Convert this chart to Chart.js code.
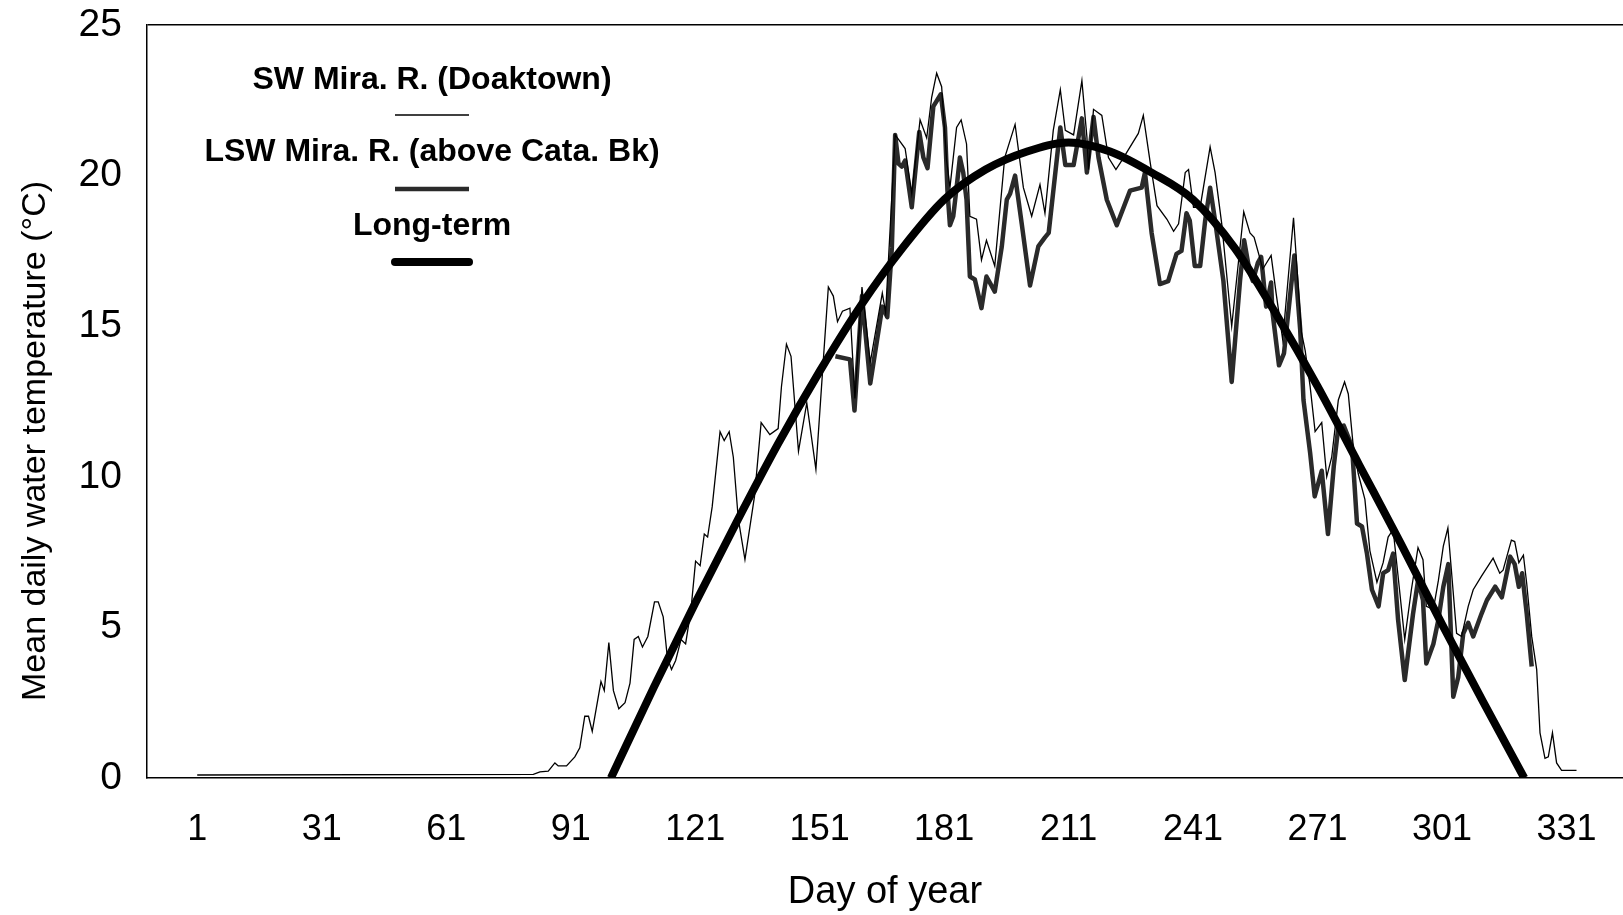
<!DOCTYPE html>
<html>
<head>
<meta charset="utf-8">
<title>Mean daily water temperature</title>
<script src="https://cdn.jsdelivr.net/npm/chart.js@4.4.1/dist/chart.umd.min.js"></script>
<style>
  html, body { margin: 0; padding: 0; background: #fff; }
  #wrap { width: 1623px; height: 915px; }
</style>
</head>
<body>
<div id="wrap"><canvas id="tempChart" width="1623" height="915"></canvas></div>
<script>
// --- data ---
const xTickDays = [1, 31, 61, 91, 121, 151, 181, 211, 241, 271, 301, 331];
const yTicks = [0, 5, 10, 15, 20, 25];

// SW Mira. R. (Doaktown) - thin line
const swDays = [1, 82, 83.6, 85.6, 87.2, 88, 90, 92, 93.2, 94.4, 95.3, 96.2, 98.3, 99.1, 100.2, 101.3, 102.6, 104.1, 105.3, 106.3,
  107.3, 108.3, 109.6, 111.2, 112.1, 113.3, 114.3, 115.3, 116.3, 117.6, 118.7, 120, 121.1, 122.2, 123.2, 124, 125.1, 127, 128, 129.2,
  130.2, 131.4, 133, 135.3, 136.9, 139, 141, 141.8, 143, 144.1, 145.9, 147.9, 150.1, 151.9, 153.1, 154.3, 155.3, 156.5, 158.3, 159.5,
  161.2, 163.2, 166.1, 166.9, 169.2, 170, 171.6, 173.2, 175.2, 176.8, 178, 179.2, 180.4, 181.6, 182.4, 184, 185.1, 186.4, 187.2, 188.8,
  190, 191.2, 193.2, 195.6, 198.1, 200.1, 202.1, 204.1, 205.3, 207.3, 209, 210.2, 212.2, 214.2, 215.4, 215.8, 217, 219, 220.6, 222.4,
  223.8, 227.8, 229, 230.7, 232.3, 234.7, 236.3, 237.5, 239.1, 239.9, 241.1, 242.7, 245.1, 246.3, 247.9, 250.3, 253.2, 254.7, 255.7, 257.8,
  259.8, 261, 262.6, 265.2, 267.1, 268, 269.2, 270.4, 272, 273.2, 274.4, 276, 277.5, 278.4, 279.6, 280.8, 282.4, 283.6, 285.3, 286.8,
  288, 289.2, 290.4, 292, 293.6, 295.2, 296.4, 297.2, 298.9, 300.1, 301.3, 302.4, 304.5, 305.7, 307.3, 308.5, 310.5, 313.3, 314.9, 315.7,
  317.7, 318.5, 319.5, 320.6, 321.4, 322.6, 323.8, 324.6, 325.8, 326.6, 327.6, 328.6, 329.8, 333.4];
const swTemps = [0.1, 0.12, 0.2, 0.23, 0.5, 0.4, 0.4, 0.7, 1.0, 2.05, 2.05, 1.55, 3.2, 2.9, 4.5, 2.9, 2.3, 2.5, 3.15, 4.6,
  4.7, 4.35, 4.7, 5.85, 5.85, 5.35, 4.0, 3.6, 3.9, 4.6, 4.45, 5.6, 7.2, 7.05, 8.1, 8.0, 9.0, 11.5, 11.2, 11.5,
  10.65, 8.6, 7.25, 9.35, 11.8, 11.4, 11.6, 13.0, 14.4, 14.0, 10.85, 12.45, 10.25, 13.9, 16.3, 16.0, 15.15, 15.5, 15.6, 12.6,
  16.3, 13.8, 16.1, 15.45, 21.35, 21.2, 20.9, 19.4, 21.85, 21.25, 22.6, 23.4, 22.95, 20.5, 19.6, 21.6, 21.85, 21.05, 18.65, 18.55,
  17.2, 17.85, 17.0, 20.6, 21.7, 19.6, 18.65, 19.7, 18.75, 21.5, 22.85, 21.5, 21.35, 23.15, 21.3, 20.2, 22.2, 22.0, 20.6, 20.2,
  20.5, 21.4, 22.0, 20.4, 19.0, 18.55, 18.15, 18.4, 20.1, 20.2, 18.95, 18.95, 20.95, 20.1, 18.4, 15.0, 18.8, 18.1, 17.95, 16.9,
  17.35, 16.1, 14.55, 18.6, 14.8, 14.2, 13.0, 11.5, 11.8, 10.0, 10.65, 12.55, 13.15, 12.75, 11.0, 10.1, 9.25, 7.55, 6.5, 7.15,
  8.0, 8.25, 6.7, 4.6, 6.25, 7.65, 7.25, 5.7, 5.6, 6.55, 7.7, 8.3, 4.8, 4.7, 5.7, 6.25, 6.7, 7.3, 6.8, 6.9,
  7.9, 7.85, 7.15, 7.4, 6.45, 4.7, 3.6, 1.5, 0.65, 0.7, 1.5, 0.5, 0.25, 0.25];

// LSW Mira. R. (above Cata. Bk) - medium line
const lswDays = [154.8, 158.3, 159.4, 161.2, 163.2, 166.1, 167.3, 168.4, 169.2, 170, 170.8, 171.6, 173.2, 175, 176, 177, 178.4, 180.2, 181.2, 181.8,
  182.4, 183.2, 184, 184.8, 185.6, 186.4, 187.2, 188.4, 190, 191.2, 193.2, 194.9, 196.1, 196.9, 198.1, 199.7, 201.7, 203.7, 205.3, 206.2,
  209, 210.2, 212.2, 214.2, 215.4, 217, 218.2, 220.2, 222.6, 225.8, 228.6, 229.4, 231, 233, 235, 237, 238.2, 239.4, 240.2, 241.4,
  242.7, 243.9, 245.1, 246.3, 248.3, 250.3, 252.3, 253.3, 254.7, 255.4, 256.6, 257.4, 258.6, 259.8, 260.1, 261.7, 262.9, 265.4, 266.8, 267.6,
  269.2, 270.3, 272, 273.5, 274.9, 276, 277.3, 279.3, 280.5, 281.7, 282.9, 284.1, 285.7, 286.8, 288, 289.2, 290.4, 292, 294, 295.2,
  296.4, 297.2, 298.9, 300.1, 301.3, 302.5, 303.7, 304.9, 306.1, 307.3, 308.5, 310.5, 311.8, 313.8, 315.4, 317.4, 318.5, 319.5, 320.3, 321.4,
  322.6];
const lswTemps = [14.0, 13.9, 12.2, 16.0, 13.1, 15.65, 15.3, 17.6, 21.35, 20.4, 20.3, 20.5, 18.95, 21.45, 20.6, 20.25, 22.3, 22.7, 21.6, 19.5,
  18.35, 18.65, 19.6, 20.6, 20.1, 19.2, 16.65, 16.55, 15.6, 16.65, 16.15, 17.65, 19.2, 19.4, 20.0, 18.4, 16.35, 17.65, 17.95, 18.1,
  21.6, 20.35, 20.35, 21.9, 20.1, 21.95, 20.6, 19.2, 18.35, 19.5, 19.6, 20.1, 18.1, 16.4, 16.5, 17.4, 17.5, 18.75, 18.5, 17.0,
  17.0, 18.5, 19.6, 18.5, 16.5, 13.15, 16.5, 17.85, 16.75, 16.5, 17.1, 17.3, 15.65, 16.45, 15.5, 13.7, 14.1, 17.35, 14.9, 12.55,
  10.8, 9.35, 10.2, 8.1, 10.35, 11.65, 11.7, 11.0, 8.45, 8.35, 7.45, 6.25, 5.7, 6.8, 6.9, 7.45, 5.25, 3.25, 5.45, 6.55,
  5.9, 3.8, 4.45, 5.25, 6.35, 7.1, 2.7, 3.35, 4.8, 5.15, 4.7, 5.45, 5.9, 6.35, 6.0, 7.35, 7.1, 6.35, 6.8, 5.45,
  3.7];

// Long-term - thick smooth curve
const ltDays = [100.7, 111, 121, 131, 141, 151, 161, 171, 181, 191, 201, 211, 221, 231, 241, 251, 261, 271, 281, 291, 301, 311, 320.8];
const ltTemps = [0, 3.0, 5.8, 8.5, 11.1, 13.5, 15.7, 17.6, 19.2, 20.2, 20.8, 21.1, 20.8, 20.1, 19.2, 17.6, 15.4, 13.0, 10.4, 7.8, 5.1, 2.5, 0];

const FONT = "'Liberation Sans', Arial, Helvetica, sans-serif";

function pts(days, temps) {
  return days.map((d, i) => ({ x: d, y: temps[i] }));
}

// legend drawn inside the plot: label text with its line sample underneath
const stackedLegend = {
  id: 'stackedLegend',
  afterDraw(chart) {
    const ctx = chart.ctx;
    const cx = 432;
    const rows = [[80, 115], [152, 189], [226, 262]];
    ctx.save();
    ctx.font = 'bold 32px ' + FONT;
    ctx.fillStyle = '#000';
    ctx.textAlign = 'center';
    ctx.textBaseline = 'middle';
    chart.data.datasets.forEach((ds, i) => {
      ctx.fillText(ds.label, cx, rows[i][0]);
      ctx.beginPath();
      ctx.lineWidth = ds.borderWidth;
      ctx.strokeStyle = ds.borderColor;
      ctx.lineCap = i === 2 ? 'round' : 'butt';
      ctx.moveTo(cx - 37, rows[i][1]);
      ctx.lineTo(cx + 37, rows[i][1]);
      ctx.stroke();
    });
    ctx.restore();
  }
};

// y axis title, placed where the original has it
const yTitle = {
  id: 'yTitle',
  afterDraw(chart) {
    const ctx = chart.ctx;
    ctx.save();
    ctx.translate(36, 441);
    ctx.rotate(-Math.PI / 2);
    ctx.font = '34px ' + FONT;
    ctx.fillStyle = '#000';
    ctx.textAlign = 'center';
    ctx.textBaseline = 'middle';
    ctx.fillText('Mean daily water temperature (°C)', 0, 0);
    ctx.restore();
  }
};

const ctx = document.getElementById('tempChart').getContext('2d');
new Chart(ctx, {
  type: 'line',
  data: {
    datasets: [{
      label: 'SW Mira. R. (Doaktown)',
      data: pts(swDays, swTemps),
      borderColor: '#000',
      borderWidth: 1.3,
      pointRadius: 0,
      tension: 0,
      order: 1
    }, {
      label: 'LSW Mira. R. (above Cata. Bk)',
      data: pts(lswDays, lswTemps),
      borderColor: '#2a2a2a',
      borderWidth: 4.5,
      borderJoinStyle: 'round',
      pointRadius: 0,
      tension: 0,
      order: 2
    }, {
      label: 'Long-term',
      data: pts(ltDays, ltTemps),
      borderColor: '#000',
      borderWidth: 8,
      pointRadius: 0,
      cubicInterpolationMode: 'monotone',
      order: 0
    }]
  },
  options: {
    responsive: false,
    animation: false,
    layout: { padding: { top: 25, right: 0, left: 0, bottom: 0 } },
    plugins: { legend: { display: false }, tooltip: { enabled: false } },
    scales: {
      x: {
        type: 'linear',
        min: -11.1,
        max: 344.6,
        afterBuildTicks: s => { s.ticks = xTickDays.map(v => ({ value: v })); },
        afterFit: s => { s.height = 137; s.paddingLeft = 0; s.paddingRight = 0; },
        grid: { display: false, drawTicks: false },
        border: { display: true, color: '#000', width: 1.5 },
        ticks: { color: '#000', font: { size: 36, family: FONT }, padding: 30, autoSkip: false, maxRotation: 0 },
        title: { display: true, text: 'Day of year', color: '#000', font: { size: 38, family: FONT }, padding: { top: 0, bottom: 0 } }
      },
      y: {
        min: 0,
        max: 25,
        afterBuildTicks: s => { s.ticks = yTicks.map(v => ({ value: v })); },
        afterFit: s => { s.width = 147; s.paddingTop = 0; s.paddingBottom = 0; },
        grid: {
          drawTicks: false,
          lineWidth: 1.5,
          color: c => (c.tick && c.tick.value === 25 ? '#000' : 'rgba(0,0,0,0)')
        },
        border: { display: true, color: '#000', width: 1.5 },
        ticks: { color: '#000', font: { size: 39, family: FONT }, padding: 25 }
      }
    }
  },
  plugins: [stackedLegend, yTitle]
});
</script>
</body>
</html>
